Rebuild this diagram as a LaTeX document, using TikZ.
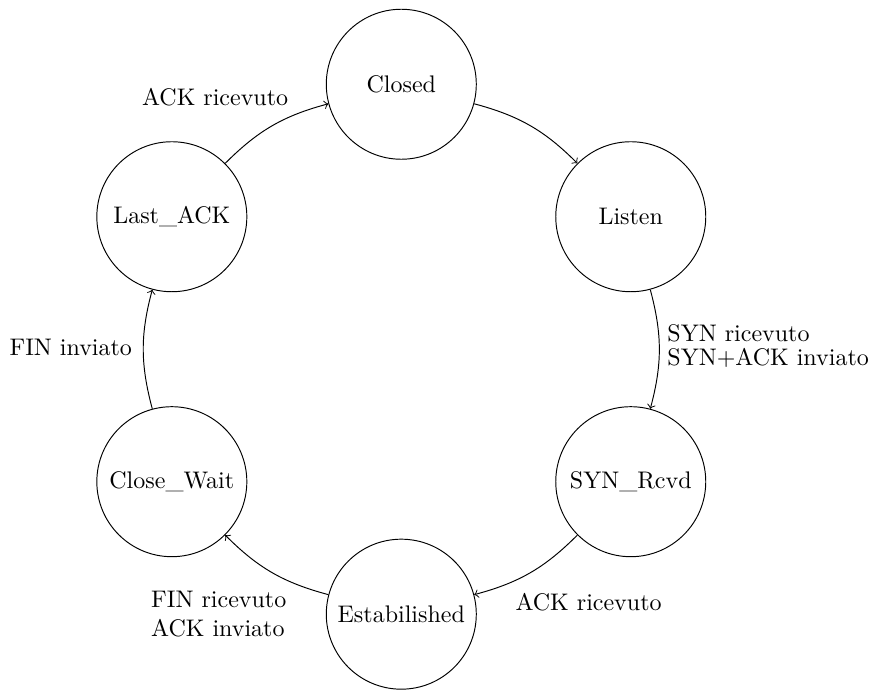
\documentclass[tikz,border=0pt]{standalone}
\usepackage{fontspec}
\usetikzlibrary{arrows,calc}
\begin{document}
\begin{tikzpicture}[x=1pt,y=1pt,
  state/.style={draw,circle,minimum size=62.5pt,inner sep=0pt},
  trans/.style={->,bend left=15},
  lbl/.style={align=left,inner sep=0pt,anchor=base west}]
\useasboundingbox (0,0) rectangle (365.83,-287.08);
\coordinate (c) at (167.2,-145.5);
% states on a circle
\node[state] (closed)  at ($(c)+(90:110.4)$)  {Closed};
\node[state] (listen)  at ($(c)+(30:110.4)$)  {Listen};
\node[state] (synrcvd) at ($(c)+(-30:110.4)$) {SYN\_Rcvd};
\node[state] (estab)   at ($(c)+(-90:110.4)$) {Estabilished};
\node[state] (cwait)   at ($(c)+(210:110.4)$) {Close\_Wait};
\node[state] (lack)    at ($(c)+(150:110.4)$) {Last\_ACK};

% transitions
\draw[trans] (closed) to (listen);
\draw[trans] (listen) to (synrcvd);
\draw[trans] (synrcvd) to (estab);
\draw[trans] (estab) to (cwait);
\draw[trans] (cwait) to (lack);
\draw[trans] (lack) to (closed);

% transition labels (base anchor = baseline of the last line)
\node[lbl] (l2) at (277.9,-152.1) {SYN ricevuto\\[-2.3pt]SYN+ACK inviato};
\node[lbl] (l3) at (214.6,-254.5) {ACK ricevuto};
\node[lbl] (l4) at (62.8,-265.3) {FIN ricevuto\\ACK inviato};
\node[lbl] (l5) at (3.8,-148.3) {FIN inviato};
\node[lbl] (l6) at (59.0,-43.75) {ACK ricevuto};
\end{tikzpicture}
\end{document}
